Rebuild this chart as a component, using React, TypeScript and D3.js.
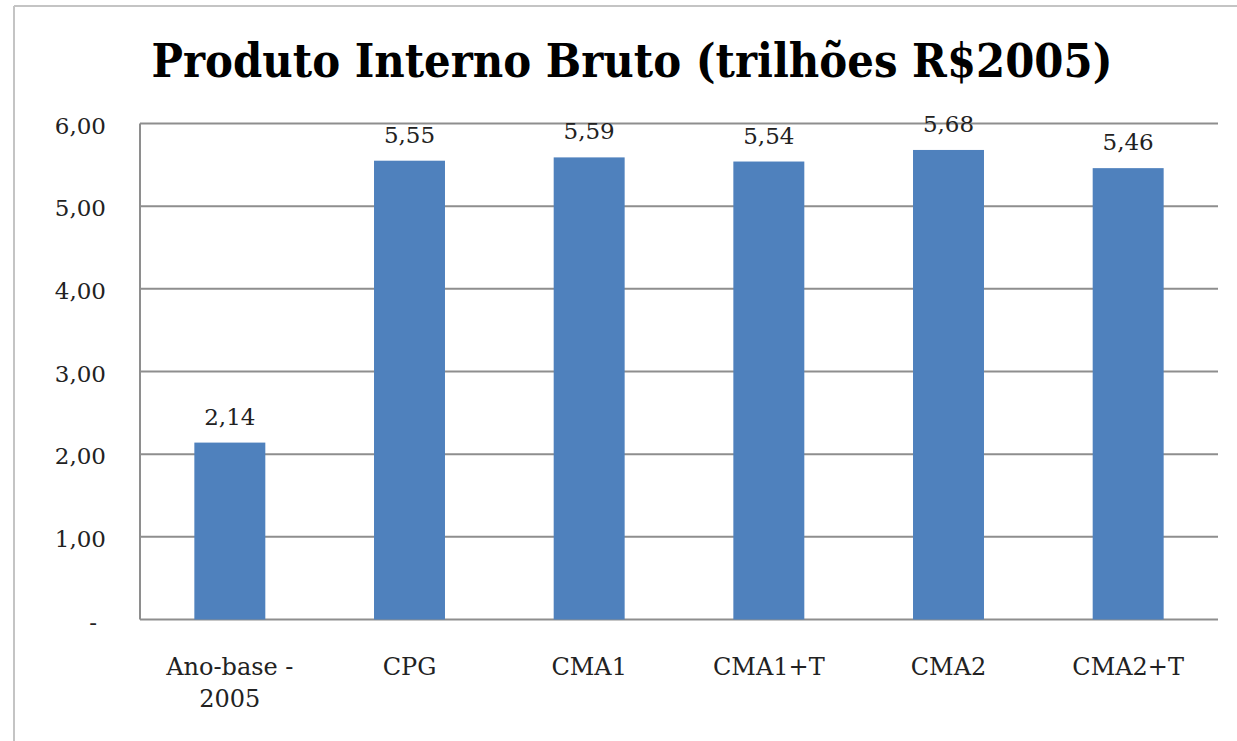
import * as d3 from "d3";

const categories = ["Ano-base -\n2005", "CPG", "CMA1", "CMA1+T", "CMA2", "CMA2+T"];
const values = [2.14, 5.55, 5.59, 5.54, 5.68, 5.46];
const valueLabels = ["2,14", "5,55", "5,59", "5,54", "5,68", "5,46"];
const yTicks = [0, 1, 2, 3, 4, 5, 6];
const yTickLabels = ["-", "1,00", "2,00", "3,00", "4,00", "5,00", "6,00"];
const title = "Produto Interno Bruto (trilhões R$2005)";

const width = 1237;
const height = 741;
const margin = { top: 123.5, right: 19, bottom: 121.5, left: 140 };
const font = "'DejaVu Serif', serif";

export default function App() {
  // category bands span the whole plot, bars take ~40% of each band
  const x = d3
    .scaleBand<string>()
    .domain(categories)
    .range([margin.left, width - margin.right])
    .padding(0);
  const barW = x.bandwidth() * 0.395;

  const y = d3
    .scaleLinear()
    .domain([0, 6])
    .range([height - margin.bottom, margin.top]);

  return (
    <svg
      width={width}
      height={height}
      style={{ position: "absolute", left: 0, top: 0, background: "#fff" }}
    >
      {/* outer frame */}
      <line x1={14} y1={6} x2={14} y2={height} stroke="#c4c4c4" strokeWidth={2} />
      <line x1={14} y1={6} x2={width} y2={6} stroke="#c4c4c4" strokeWidth={2} />

      <text
        x={632}
        y={77}
        textAnchor="middle"
        fontFamily={font}
        fontWeight="bold"
        fontSize={47}
        textLength={961}
        lengthAdjust="spacingAndGlyphs"
        fill="#000"
      >
        {title}
      </text>

      {/* gridlines */}
      {yTicks.map((t) => (
        <line
          key={t}
          x1={margin.left}
          x2={width - margin.right}
          y1={y(t)}
          y2={y(t)}
          stroke="#8e8e8e"
          strokeWidth={2}
        />
      ))}
      <line
        x1={margin.left}
        x2={margin.left}
        y1={y(6)}
        y2={y(0)}
        stroke="#8e8e8e"
        strokeWidth={2}
      />

      {/* y tick labels */}
      {yTicks.map((t, i) => (
        <text
          key={t}
          x={t === 0 ? 97 : 106}
          y={y(t) + 10}
          textAnchor="end"
          fontFamily={font}
          fontSize={23}
          fill="#222"
        >
          {yTickLabels[i]}
        </text>
      ))}

      {/* bars */}
      {categories.map((c, i) => (
        <rect
          key={c}
          x={x(c)! + (x.bandwidth() - barW) / 2}
          y={y(values[i])}
          width={barW}
          height={y(0) - y(values[i])}
          fill="#4f81bd"
        />
      ))}

      {/* value labels */}
      {categories.map((c, i) => (
        <text
          key={c}
          x={x(c)! + x.bandwidth() / 2}
          y={y(values[i]) - 18}
          textAnchor="middle"
          fontFamily={font}
          fontSize={23}
          fill="#222"
        >
          {valueLabels[i]}
        </text>
      ))}

      {/* category labels */}
      {categories.map((c) => (
        <text
          key={c}
          x={x(c)! + x.bandwidth() / 2}
          y={675}
          textAnchor="middle"
          fontFamily={font}
          fontSize={24}
          fill="#222"
        >
          {c.split("\n").map((line, j) => (
            <tspan key={j} x={x(c)! + x.bandwidth() / 2} dy={j === 0 ? 0 : 32}>
              {line}
            </tspan>
          ))}
        </text>
      ))}
    </svg>
  );
}
